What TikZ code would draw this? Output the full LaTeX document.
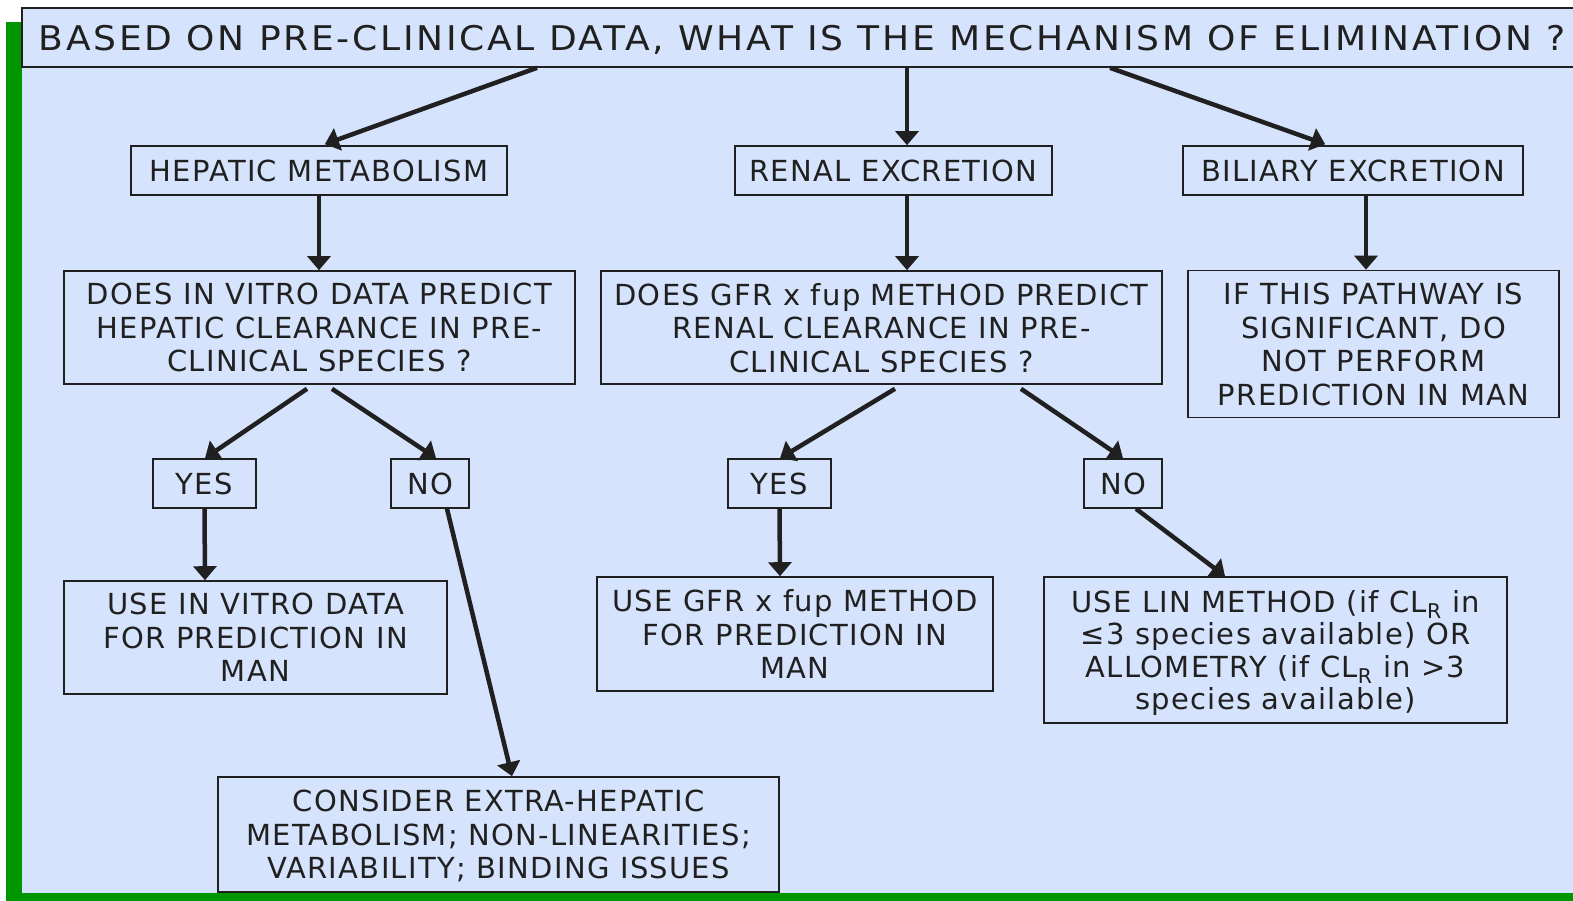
\documentclass[tikz,border=0pt]{standalone}
\usepackage{fontspec}
\setmainfont{DejaVu Sans}[LetterSpace=4.5]
\newfontfamily\headfont{DejaVu Sans}[LetterSpace=8, FakeStretch=1.06]
\usetikzlibrary{arrows.meta}
\definecolor{panel}{RGB}{214,227,253}
\definecolor{frame}{RGB}{0,150,0}
\definecolor{ink}{RGB}{32,32,32}
\begin{document}
\begin{tikzpicture}[x=1pt,y=-1pt,
  box/.style={draw=ink, line width=1.6pt, fill=panel, text=ink, align=center,
    inner sep=0pt, text depth=0pt, font=\fontsize{29}{33.5}\selectfont},
  small/.style={minimum height=49pt},
  arr/.style={draw=ink, line width=4.5pt, -{Triangle[length=14pt,width=23pt]}},
  darr/.style={arr, shorten >=3pt}]
\useasboundingbox (0,0) rectangle (1573,901);
% page background and green frame
\fill[white] (0,0) rectangle (1573,901);
\fill[frame] (6,22) rectangle (22,901);
\fill[frame] (6,893) rectangle (1573,901);
\fill[panel] (22,22) rectangle (1573,893);

% question heading
\node[box, minimum width=1561pt, minimum height=59pt,
  font=\headfont\fontsize{34}{40}\selectfont] (title) at (802.5,37.5)
  {BASED ON PRE-CLINICAL DATA, WHAT IS THE MECHANISM OF ELIMINATION ?};

% elimination routes
\node[box, small, minimum width=376pt] (hep) at (319,170.5) {HEPATIC METABOLISM};
\node[box, small, minimum width=317pt] (ren) at (893.5,170.5) {RENAL EXCRETION};
\node[box, small, minimum width=340pt] (bil) at (1353,170.5) {BILIARY EXCRETION};

% questions
\node[box, minimum width=511pt, minimum height=113pt] (q1) at (319.5,327.5)
  {DOES IN VITRO DATA PREDICT\\HEPATIC CLEARANCE IN PRE-\\CLINICAL SPECIES ?};
\node[box, minimum width=561pt, minimum height=113pt] (q2) at (881.5,327.5)
  {DOES GFR x fup METHOD PREDICT\\RENAL CLEARANCE IN PRE-\\CLINICAL SPECIES ?};
\node[box, minimum width=371pt, minimum height=147pt] (bilnote) at (1373.5,344)
  {IF THIS PATHWAY IS\\SIGNIFICANT, DO\\NOT PERFORM\\PREDICTION IN MAN};

% answers
\node[box, small, minimum width=103pt] (yes1) at (204.5,483.5) {YES};
\node[box, small, minimum width=78pt]  (no1)  at (430,483.5) {NO};
\node[box, small, minimum width=103pt] (yes2) at (779.5,483.5) {YES};
\node[box, small, minimum width=78pt]  (no2)  at (1123,483.5) {NO};

% outcomes
\node[box, minimum width=383pt, minimum height=113pt] (use1) at (255.5,637.5)
  {USE IN VITRO DATA\\FOR PREDICTION IN\\MAN};
\node[box, minimum width=396pt, minimum height=114pt] (use2) at (795,634)
  {USE GFR x fup METHOD\\FOR PREDICTION IN\\MAN};
\node[box, minimum width=463pt, minimum height=146pt,
  font=\fontsize{29}{32.5}\selectfont] (lin) at (1275.5,650)
  {USE LIN METHOD (if CL\textsubscript{R} in\\≤3 species available) OR\\ALLOMETRY (if CL\textsubscript{R} in >3\\species available)};
\node[box, minimum width=561pt, minimum height=115pt] (cons) at (498.5,834.5)
  {CONSIDER EXTRA-HEPATIC\\METABOLISM; NON-LINEARITIES;\\VARIABILITY; BINDING ISSUES};

% connectors
\draw[darr] ([xshift=-265.5pt]title.south) -- ([xshift=3pt]hep.north);
\draw[arr]  ([xshift=104.5pt]title.south) -- ([xshift=13.5pt]ren.north);
\draw[darr] ([xshift=307.5pt]title.south) -- ([xshift=-25pt]bil.north);
\draw[arr] (hep.south) -- (hep.south |- q1.north);
\draw[arr] ([xshift=13.5pt]ren.south) -- ([xshift=25.5pt]q2.north);
\draw[arr] ([xshift=13pt]bil.south) -- ([xshift=-7.5pt]bilnote.north);
\draw[arr] ([xshift=-12.5pt,yshift=-4pt]q1.south) -- ([xshift=0.5pt]yes1.north);
\draw[arr] ([xshift=12.5pt,yshift=-4pt]q1.south) -- ([xshift=6pt]no1.north);
\draw[arr] ([xshift=13.5pt,yshift=-4pt]q2.south) -- ([xshift=0.5pt]yes2.north);
\draw[arr] ([xshift=139.5pt,yshift=-4pt]q2.south) -- (no2.north);
\draw[arr] (yes1.south) -- ([xshift=-50.5pt]use1.north);
\draw[arr] ([xshift=17pt]no1.south) -- ([xshift=13.5pt]cons.north);
\draw[arr] (yes2.south) -- ([xshift=-15pt]use2.north);
\draw[arr] ([xshift=13pt]no2.south) -- ([xshift=-50.5pt]lin.north);
\end{tikzpicture}
\end{document}
